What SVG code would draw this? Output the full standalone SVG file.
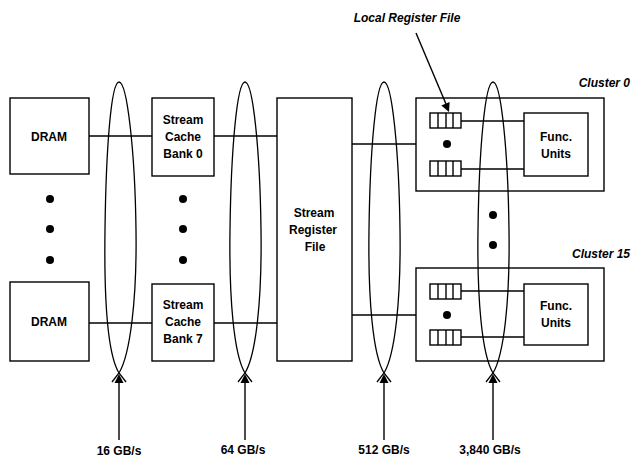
<svg xmlns="http://www.w3.org/2000/svg" width="632" height="457" viewBox="0 0 632 457">
<style>
.box{fill:#fff;stroke:#000;stroke-width:1.4}
.ln{fill:none;stroke:#000;stroke-width:1.4}
.loop{fill:none;stroke:#000;stroke-width:1.3}
.ah{fill:#000;stroke:none}
.t{font-family:"Liberation Sans",Arial,sans-serif;font-weight:bold;font-size:12px;text-anchor:middle;fill:#000}
.ti{font-family:"Liberation Sans",Arial,sans-serif;font-weight:bold;font-style:italic;font-size:12px;fill:#000}
.dot{fill:#000}
</style>
<defs>
<g id="rf">
<rect x="0" y="0" width="31" height="15" class="box"/>
<line x1="8" y1="0" x2="8" y2="15" class="ln"/>
<line x1="16" y1="0" x2="16" y2="15" class="ln"/>
<line x1="23" y1="0" x2="23" y2="15" class="ln"/>
</g>
<path id="upah" d="M0,0 L4.5,9 L-4.5,9 Z" class="ah"/>
</defs>
<rect width="632" height="457" fill="#fff"/>

<g id="dram0"><rect x="10" y="98" width="79" height="76" class="box"/><text x="49" y="141" class="t">DRAM</text></g>
<g id="dram7"><rect x="10" y="282" width="79" height="79" class="box"/><text x="49" y="326" class="t">DRAM</text></g>
<g id="dram-dots"><circle cx="50" cy="199" r="4" class="dot"/><circle cx="50" cy="229" r="4" class="dot"/><circle cx="50" cy="260" r="4" class="dot"/></g>

<g id="cache0"><rect x="152" y="98" width="62" height="78" class="box"/>
<text x="183" y="124" class="t">Stream</text><text x="183" y="141" class="t">Cache</text><text x="183" y="158" class="t">Bank 0</text></g>
<g id="cache7"><rect x="152" y="284" width="62" height="77" class="box"/>
<text x="183" y="309" class="t">Stream</text><text x="183" y="326" class="t">Cache</text><text x="183" y="343" class="t">Bank 7</text></g>
<g id="cache-dots"><circle cx="183" cy="199" r="4" class="dot"/><circle cx="183" cy="229" r="4" class="dot"/><circle cx="183" cy="260" r="4" class="dot"/></g>

<g id="srf"><rect x="277" y="98" width="75" height="263" class="box"/>
<text x="314" y="217" class="t">Stream</text><text x="313" y="234" class="t">Register</text><text x="315" y="251" class="t">File</text></g>

<g id="cluster0"><rect x="416" y="98" width="188" height="93" class="box"/>
<use href="#rf" x="430" y="113"/><use href="#rf" x="430" y="161"/>
<circle cx="447" cy="144" r="4" class="dot"/>
<rect x="524" y="113" width="64" height="63" class="box"/>
<text x="556" y="141" class="t">Func.</text><text x="556" y="158" class="t">Units</text>
<text x="630" y="87" class="ti" text-anchor="end">Cluster 0</text></g>

<g id="cluster15"><rect x="416" y="268" width="188" height="93" class="box"/>
<use href="#rf" x="430" y="284"/><use href="#rf" x="430" y="330"/>
<circle cx="447" cy="315" r="4" class="dot"/>
<rect x="524" y="284" width="64" height="61" class="box"/>
<text x="556" y="310" class="t">Func.</text><text x="556" y="327" class="t">Units</text>
<text x="630" y="258" class="ti" text-anchor="end">Cluster 15</text></g>

<g id="connectors">
<line x1="89" y1="136" x2="152" y2="136" class="ln"/>
<line x1="214" y1="136" x2="277" y2="136" class="ln"/>
<line x1="89" y1="323" x2="152" y2="323" class="ln"/>
<line x1="214" y1="323" x2="277" y2="323" class="ln"/>
<line x1="352" y1="144" x2="416" y2="144" class="ln"/>
<line x1="352" y1="315" x2="416" y2="315" class="ln"/>
<line x1="461" y1="121" x2="524" y2="121" class="ln"/>
<line x1="461" y1="169" x2="524" y2="169" class="ln"/>
<line x1="461" y1="291" x2="524" y2="291" class="ln"/>
<line x1="461" y1="337" x2="524" y2="337" class="ln"/>
<line x1="416" y1="33" x2="446" y2="104" class="ln"/>
<path d="M449,112 L449.6,101.9 L441.3,105.5 Z" class="ah"/>
<line x1="119" y1="440" x2="119" y2="382" class="ln"/>
<line x1="245" y1="440" x2="245" y2="382" class="ln"/>
<line x1="384" y1="440" x2="384" y2="382" class="ln"/>
<line x1="493" y1="440" x2="493" y2="382" class="ln"/>
</g>

<g id="bus16"><path class="loop" d="M126,382 L119,373 C108,355 104,300 105,230 C106,150 111,82 119,82 C127,82 135,150 136,230 C137,300 130,355 119,373 L112,382"/></g>
<g id="bus64"><path class="loop" d="M252,382 L245,373 C234,355 229,300 230,230 C231,150 237,82 245,82 C253,82 260,150 261,230 C262,300 256,355 245,373 L238,382"/></g>
<g id="bus512"><path class="loop" d="M391,382 L384,373 C373,355 368,300 369,230 C370,150 376,82 384,82 C392,82 399,150 400,230 C401,300 395,355 384,373 L377,382"/></g>
<g id="bus3840"><path class="loop" d="M500,382 L493,373 C482,355 477,300 478,230 C479,150 485,82 493,82 C501,82 508,150 509,230 C510,300 504,355 493,373 L486,382"/>
<circle cx="493" cy="215" r="4" class="dot"/><circle cx="493" cy="245" r="4" class="dot"/></g>

<g id="arrowheads">
<use href="#upah" x="119" y="374"/>
<use href="#upah" x="245" y="374"/>
<use href="#upah" x="384" y="374"/>
<use href="#upah" x="493" y="374"/>
</g>

<g id="labels">
<text x="407" y="22" class="ti" text-anchor="middle">Local Register File</text>
<text x="119" y="455" class="t">16 GB/s</text>
<text x="243" y="454" class="t">64 GB/s</text>
<text x="384" y="454" class="t">512 GB/s</text>
<text x="490" y="454" class="t">3,840 GB/s</text>
</g>
</svg>
